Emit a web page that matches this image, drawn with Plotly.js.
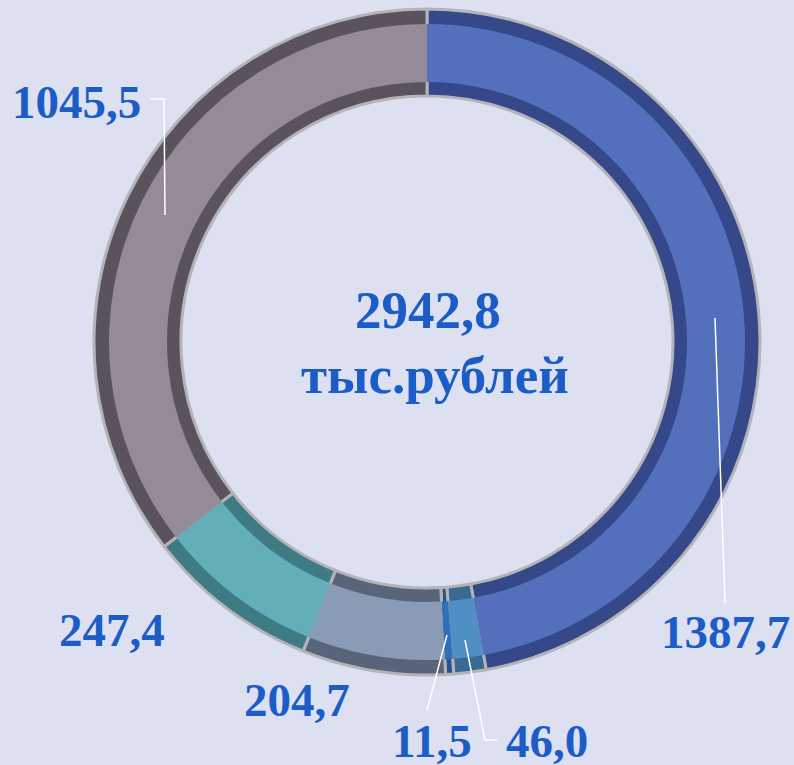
<!DOCTYPE html>
<html><head><meta charset="utf-8">
<script src="https://cdn.plot.ly/plotly-3.0.1.min.js"></script>
<style>html,body{margin:0;padding:0;background:#DCE0F1;}</style>
</head><body><div id="chart" style="width:794px;height:765px;"></div>
<script>
const categories = ["A", "B", "C", "D", "E", "F"];
const values = [1387.7, 46.0, 11.5, 204.7, 247.4, 1045.5];
const valueLabels = ["1387,7", "46,0", "11,5", "204,7", "247,4", "1045,5"];
const totalLabel = "2942,8";
const unitLabel = "тыс.рублей";

const faceColors = ["#5470BD", "#4F8FC4", "#2F6FB8", "#8A9BB6", "#62AEB9", "#958A97"];
const edgeColors = ["#34488A", "#3A6A92", "#245490", "#58647A", "#3E7B84", "#5A525C"];

const W = 794, H = 765;
const cx = 427, cy = 342;
function dom(r) {
  return {x: [(cx - r) / W, (cx + r) / W], y: [(H - cy - r) / H, (H - cy + r) / H]};
}
const common = {type: "pie", labels: categories, values: values, sort: false,
  direction: "clockwise", rotation: 0, textinfo: "none", hoverinfo: "skip", showlegend: false};

const traces = [
  Object.assign({}, common, {domain: dom(333), hole: 246 / 333,
    marker: {colors: edgeColors, line: {color: "#B4B4B8", width: 3}}}),
  Object.assign({}, common, {domain: dom(318), hole: 260 / 318,
    marker: {colors: faceColors, line: {color: "rgba(0,0,0,0)", width: 0}}})
];

const fx = p => p / W, fy = p => 1 - p / H;
const font = {family: "Liberation Serif, Times New Roman, serif", size: 47, color: "#1B5CC7"};
const bigFont = {family: "Liberation Serif, Times New Roman, serif", size: 53, color: "#1B5CC7"};
const labelPos = [[725, 632], [547, 741], [432, 741], [297, 700], [112, 630], [76, 102]];
const annotations = valueLabels.map((t, i) => ({
  text: "<b>" + t + "</b>", x: fx(labelPos[i][0]), y: fy(labelPos[i][1]),
  xref: "paper", yref: "paper", showarrow: false, font: font, xanchor: "center", yanchor: "middle"
}));
annotations.push({text: "<b>" + totalLabel + "</b>", x: fx(428), y: fy(310), xref: "paper", yref: "paper",
  showarrow: false, font: bigFont, xanchor: "center", yanchor: "middle"});
annotations.push({text: "<b>" + unitLabel + "</b>", x: fx(435), y: fy(375), xref: "paper", yref: "paper",
  showarrow: false, font: bigFont, xanchor: "center", yanchor: "middle"});

const leaders = [
  [[150, 99], [164, 99], [165, 215]],
  [[715, 318], [725, 603]],
  [[447, 635], [427, 710]],
  [[465, 640], [485, 740], [497, 740]]
];
const shapes = leaders.map(pts => ({
  type: "path", xref: "paper", yref: "paper",
  path: pts.map((p, j) => (j ? "L" : "M") + fx(p[0]) + "," + fy(p[1])).join(" "),
  line: {color: "#FFFFFF", width: 1.5}
}));

Plotly.newPlot("chart", traces, {
  width: W, height: H, margin: {l: 0, r: 0, t: 0, b: 0},
  paper_bgcolor: "#DCE0F1", plot_bgcolor: "#DCE0F1",
  annotations: annotations, shapes: shapes
}, {displayModeBar: false, staticPlot: true});
</script></body></html>
